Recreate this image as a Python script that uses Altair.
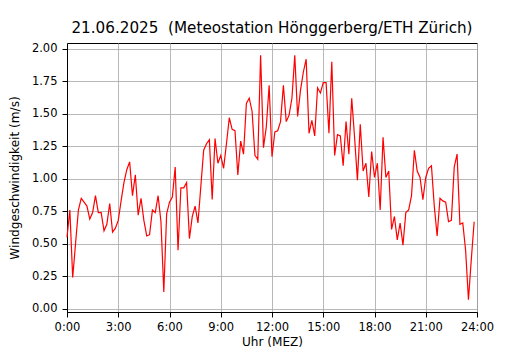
import altair as alt
import pandas as pd

# wind speed (m/s), 10-minute values from 0:00 to 23:50
speed_0 = [0.55, 0.76, 0.24, 0.50, 0.76, 0.85, 0.82, 0.79, 0.69, 0.74, 0.87, 0.74,
           0.74, 0.60, 0.65, 0.81, 0.59, 0.62, 0.68, 0.83, 0.97, 1.07, 1.13, 0.87,
           1.03, 0.72, 0.85, 0.68, 0.56, 0.57, 0.76, 0.74, 0.87, 0.67, 0.13, 0.73]
speed_1 = [0.82, 0.86, 1.09, 0.45, 0.93, 0.93, 0.97, 0.54, 0.71, 0.79, 0.66, 0.94,
           1.22, 1.27, 1.30, 0.84, 1.31, 1.12, 1.18, 1.08, 1.27, 1.47, 1.38, 1.37,
           1.03, 1.29, 1.19, 1.58, 1.62, 1.52, 1.18, 1.15, 1.95, 1.24, 1.40, 1.72]
speed_2 = [1.17, 1.36, 1.37, 1.44, 1.72, 1.44, 1.49, 1.62, 1.95, 1.48, 1.68, 1.82,
           1.92, 1.35, 1.45, 1.33, 1.70, 1.66, 1.74, 1.74, 1.35, 1.90, 1.18, 1.34,
           1.33, 1.10, 1.44, 1.19, 1.62, 1.32, 0.99, 1.42, 1.06, 1.12, 0.86, 1.21]
speed_3 = [1.01, 1.12, 0.76, 1.32, 1.01, 1.06, 0.61, 0.71, 0.53, 0.66, 0.49, 0.74,
           0.76, 0.87, 1.22, 1.06, 1.01, 0.84, 1.01, 1.08, 1.10, 0.79, 0.56, 0.85,
           0.83, 0.82, 0.67, 0.68, 1.09, 1.19, 0.65, 0.66, 0.45, 0.07, 0.38, 0.67]
speeds = speed_0 + speed_1 + speed_2 + speed_3
hours = [i / 6 for i in range(len(speeds))]

x_ticks = [0, 3, 6, 9, 12, 15, 18, 21, 24]
y_ticks = [0.0, 0.25, 0.5, 0.75, 1.0, 1.25, 1.5, 1.75, 2.0]

df = pd.DataFrame({"hour": hours, "speed": speeds})

FONT = "DejaVu Sans"

chart = alt.Chart(df).mark_line(color="#ff0000", strokeWidth=1.2).encode(
    x=alt.X("hour:Q",
            scale=alt.Scale(domain=[0, 24], nice=False, zero=False),
            axis=alt.Axis(values=x_ticks, title="Uhr (MEZ)",
                          labelExpr="datum.value + ':00'",
                          labelFlush=False, labelPadding=4, titlePadding=3)),
    y=alt.Y("speed:Q",
            scale=alt.Scale(domain=[-0.025, 2.045], nice=False, zero=False),
            axis=alt.Axis(values=y_ticks, format=".2f",
                          title="Windgeschwindigkeit (m/s)",
                          labelPadding=5, titlePadding=9.5)),
).properties(
    width=410, height=269,
    background="white",
    title=alt.TitleParams("21.06.2025\u00a0 (Meteostation Hönggerberg/ETH Zürich)",
                          font=FONT, fontSize=15.2, fontWeight="normal",
                          color="black", anchor="middle", baseline="bottom",
                          offset=7, dy=15),
    autosize=alt.AutoSizeParams(type="none"),
    padding={"left": 59, "top": 35, "right": 40, "bottom": 38},
).configure_view(
    stroke="black", strokeWidth=1
).configure_axis(
    grid=True, gridColor="#b0b0b0", gridWidth=0.9,
    domainColor="black", domainWidth=1,
    tickColor="black", tickSize=5, tickWidth=1,
    labelFont=FONT, labelFontSize=11.5, labelColor="black",
    titleFont=FONT, titleFontSize=12.1, titleColor="black",
    titleFontWeight="normal",
)

chart.save("out.html", embed_options={"renderer": "svg", "actions": False})
